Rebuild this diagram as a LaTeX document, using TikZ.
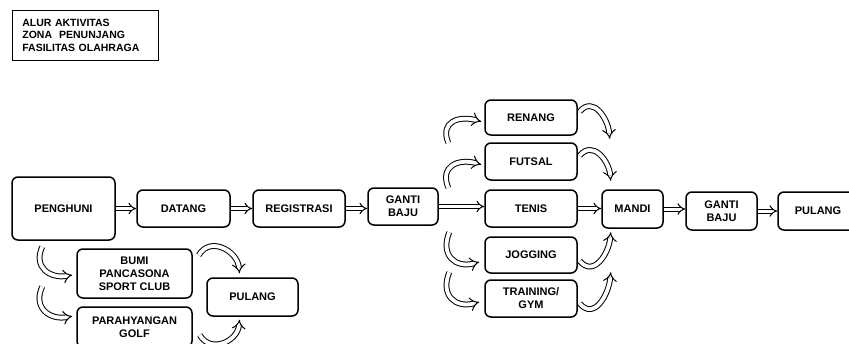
\documentclass[tikz,border=0pt]{standalone}
\usepackage{fontspec}
\setmainfont{Liberation Sans}
\usetikzlibrary{arrows.meta,calc}
\begin{document}
\begin{tikzpicture}[x=1pt,y=-1pt,
  box/.style={draw, line width=1.5pt, rounded corners=6pt, align=center, inner sep=0pt,
    font=\bfseries\fontsize{11}{13}\selectfont},
  dar/.style={double, double distance=3pt, line width=1pt, -{Implies}},
  curv/.style={double, double distance=3.8pt, line width=1pt, -{Implies}},
  titlebox/.style={draw, line width=0.7pt, align=left, anchor=north west, inner xsep=10pt,
    minimum width=146pt, minimum height=50pt, text width=126pt,
    font=\bfseries\fontsize{10.5}{12.5}\selectfont}]
\useasboundingbox (0,0) rectangle (849,343);
\clip (0,0) rectangle (849,343);
\fill[white] (0,0) rectangle (849,343);
\node[titlebox] (title) at (12,10) {ALUR AKTIVITAS\\ZONA\ \ PENUNJANG\\FASILITAS OLAHRAGA};
% main row
\node[box, minimum width=103pt, minimum height=63pt] (peng) at (63.5,208.5) {PENGHUNI};
\node[box, minimum width=93pt, minimum height=37pt] (datang) at (183.5,208.5) {DATANG};
\node[box, minimum width=92pt, minimum height=37pt] (regis) at (299,208.5) {REGISTRASI};
\node[box, minimum width=70pt, minimum height=37pt] (ganti1) at (403,206.5) {GANTI\\BAJU};
\node[box, minimum width=92pt, minimum height=37pt] (tenis) at (531,208.5) {TENIS};
\node[box, minimum width=92pt, minimum height=35pt] (renang) at (531,117.5) {RENANG};
\node[box, minimum width=92pt, minimum height=37pt] (futsal) at (531,161.5) {FUTSAL};
\node[box, minimum width=92pt, minimum height=36pt] (jogging) at (531,255) {JOGGING};
\node[box, minimum width=92pt, minimum height=37pt] (training) at (531,298.5) {TRAINING/\\GYM};
\node[box, minimum width=61pt, minimum height=38pt] (mandi) at (632.5,209) {MANDI};
\node[box, minimum width=71pt, minimum height=38pt] (ganti2) at (721.5,211) {GANTI\\BAJU};
\node[box, minimum width=80pt, minimum height=38pt] (pul1) at (818,211) {PULANG};
% lower left
\node[box, minimum width=115pt, minimum height=49pt] (bumi) at (134.5,273.5) {BUMI\\PANCASONA\\SPORT CLUB};
\node[box, minimum width=115pt, minimum height=40pt] (golf) at (134.5,327) {PARAHYANGAN\\GOLF};
\node[box, minimum width=91pt, minimum height=38pt] (pul2) at (252.5,297) {PULANG};
% horizontal arrows
\draw[dar] (peng.east) -- (peng.east -| datang.west);
\draw[dar] (datang.east) -- (datang.east -| regis.west);
\draw[dar] (regis.east) -- (regis.east -| ganti1.west);
\draw[dar] (ganti1.east) -- (ganti1.east -| tenis.west);
\draw[dar] (tenis.east) -- (tenis.east -| mandi.west);
\draw[dar] (mandi.east) -- (mandi.east -| ganti2.west);
\draw[dar] (ganti2.east) -- (ganti2.east -| pul1.west);
% lower-left curved arrows
\draw[curv] ($(peng.south west)+(31,6)$) to[out=245,in=190,looseness=1.4] ($(bumi.west)+(-4,1.5)$);
\draw[curv] ($(bumi.west)+(-34,13)$) to[out=245,in=190,looseness=1.4] ($(golf.north west)+(-4,10)$);
\draw[curv] ($(bumi.north east)+(6,7)$) to[out=60,in=95,looseness=1.3] ($(pul2.north)+(-13,-4)$);
\draw[curv] ($(golf.east)+(7,8)$) to[out=-60,in=-95,looseness=1.3] ($(pul2.south)+(-13,3)$);
% sports: left curved arrows
\draw[curv] ($(renang.south west)+(-36,7)$) to[out=112,in=165,looseness=1.5] ($(renang.west)+(-3,4)$);
\draw[curv] ($(futsal.south west)+(-36,7)$) to[out=112,in=165,looseness=1.5] ($(futsal.west)+(-3,3)$);
\draw[curv] ($(jogging.north west)+(-35,-4)$) to[out=-112,in=195,looseness=1.5] ($(jogging.west)+(-5,7)$);
\draw[curv] ($(training.north west)+(-35,-7)$) to[out=-112,in=195,looseness=1.5] ($(training.west)+(-5,3.5)$);
% sports: right curved arrows
\draw[curv] ($(renang.east)+(2,-6)$) to[out=50,in=95,looseness=1.3] ($(renang.south east)+(32,3)$);
\draw[curv] ($(futsal.east)+(2,-6)$) to[out=50,in=95,looseness=1.3] ($(futsal.south east)+(33,0)$);
\draw[curv] ($(jogging.east)+(2,6)$) to[out=-50,in=-95,looseness=1.3] ($(jogging.north east)+(33,-4)$);
\draw[curv] ($(training.east)+(2,5)$) to[out=-50,in=-95,looseness=1.3] ($(training.north east)+(33,-7)$);
\end{tikzpicture}
\end{document}
